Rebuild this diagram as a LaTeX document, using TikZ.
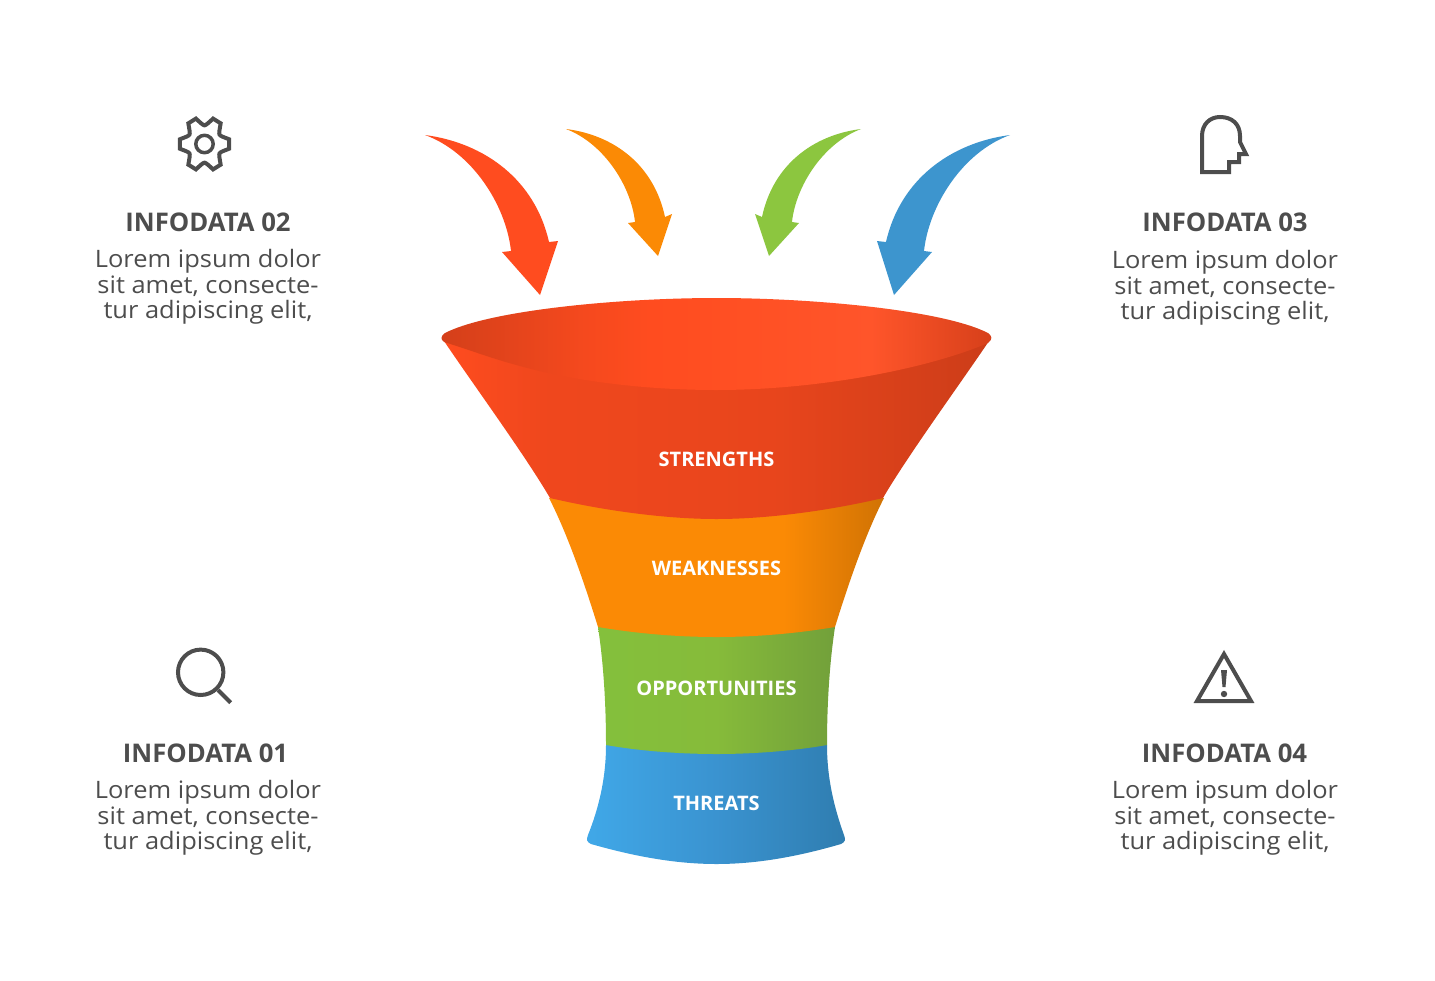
\documentclass[tikz,border=0pt]{standalone}
\usepackage{fontspec}
\setmainfont{Open Sans}
\newfontfamily\widefont[FakeStretch=1.06]{Open Sans}
\definecolor{inktext}{HTML}{4D4D4D}
\definecolor{redarrow}{HTML}{FF4C1F}
\definecolor{orangearrow}{HTML}{FB8A05}
\definecolor{greenarrow}{HTML}{8CC63F}
\definecolor{bluearrow}{HTML}{3D95CE}
\pgfdeclarehorizontalshading{redband}{100bp}{color(0bp)=(redarrow); color(25bp)=(redarrow); color(34bp)=(redarrow!94!black); color(55bp)=(redarrow!91!black); color(75bp)=(redarrow!80!black); color(100bp)=(redarrow!80!black)}
\pgfdeclarehorizontalshading{redrim}{100bp}{color(0bp)=(redarrow!83!black); color(25bp)=(redarrow!83!black); color(38bp)=(redarrow!96!black); color(44bp)=(redarrow); color(64bp)=(redarrow!95!white); color(75bp)=(redarrow!84!black); color(100bp)=(redarrow!84!black)}
\pgfdeclarehorizontalshading{orangeband}{100bp}{color(0bp)=(orangearrow); color(25bp)=(orangearrow); color(60bp)=(orangearrow); color(75bp)=(orangearrow!83!black); color(100bp)=(orangearrow!83!black)}
\definecolor{greenleft}{HTML}{84C03C}
\definecolor{greenmid}{HTML}{86BB3A}
\definecolor{greenright}{HTML}{72A03A}
\definecolor{blueleft}{HTML}{40A8E8}
\definecolor{bluemid}{HTML}{3A93D0}
\definecolor{blueright}{HTML}{2F7DB0}
\pgfdeclarehorizontalshading{greenband}{100bp}{color(0bp)=(greenleft); color(25bp)=(greenleft); color(50bp)=(greenmid); color(75bp)=(greenright); color(100bp)=(greenright)}
\pgfdeclarehorizontalshading{blueband}{100bp}{color(0bp)=(blueleft); color(25bp)=(blueleft); color(50bp)=(bluemid); color(75bp)=(blueright); color(100bp)=(blueright)}
\tikzset{
    title/.style={text=inktext,font=\fontsize{25.7}{30}\selectfont\bfseries},
    body/.style={text=inktext,align=center,font=\fontsize{24}{25.5}\widefont},
    band/.style={text=white,font=\fontsize{20}{24}\selectfont\bfseries},
    icon/.style={draw=inktext,line width=4pt,line join=miter},
}
\begin{document}
\begin{tikzpicture}[x=1pt,y=-1pt]
    \useasboundingbox (0,0) rectangle (1435,980);

    %Funnel
    \shade[shading=blueband] (606,745) .. controls (606,780) and (598,810) .. (588,835) .. controls (586,840) and (587,842) .. (591,844) .. controls (640,858) and (680,864) .. (716.5,864) .. controls (753,864) and (793,858) .. (841,844) .. controls (845,842) and (846,840) .. (844,835) .. controls (835,810) and (827,780) .. (827,745) -- cycle;
    \shade[shading=greenband] (598,627) .. controls (603,660) and (606,700) .. (606,745) .. controls (640,751) and (680,754) .. (716.5,754) .. controls (753,754) and (793,751) .. (827,745) .. controls (827,700) and (830,660) .. (835,627) -- cycle;
    \shade[shading=orangeband] (549,498) .. controls (568,535) and (585,585) .. (598,627) .. controls (640,634) and (680,637) .. (716.5,637) .. controls (753,637) and (793,634) .. (835,627) .. controls (848,585) and (865,535) .. (884,498) -- cycle;
    \shade[shading=redband] (442,338) .. controls (470,380) and (525,455) .. (550,498) .. controls (610,512) and (670,519) .. (716.5,519) .. controls (763,519) and (823,512) .. (883,498) .. controls (908,455) and (963,380) .. (991,338) -- cycle;
    \shade[shading=redrim] (444,342) .. controls (440,339) and (441,336) .. (445,333) .. controls (490,310) and (620,298) .. (716.5,298) .. controls (813,298) and (943,310) .. (988,333) .. controls (992,336) and (993,339) .. (988,343) .. controls (930,368) and (820,390) .. (716.5,390) .. controls (640,390) and (570,380) .. (520,366) .. controls (490,358) and (470,350) .. (444,342) -- cycle;

    %Arrows
    \fill[redarrow] (425,135) .. controls (485,143) and (535,180) .. (549,242) -- (558,241) -- (540,295) -- (502,252) -- (511,251) .. controls (506,205) and (472,152) .. (425,135) -- cycle;
    \fill[orangearrow] (566,129) .. controls (614,135) and (654,165) .. (665,217) -- (672,214) -- (658,256) -- (628,223) -- (635,222) .. controls (631,185) and (603,143) .. (566,129) -- cycle;
    \fill[greenarrow] (861,129) .. controls (813,135) and (773,165) .. (762,217) -- (755,214) -- (769,256) -- (799,223) -- (792,222) .. controls (796,185) and (824,143) .. (861,129) -- cycle;
    \fill[bluearrow] (1010,135) .. controls (950,143) and (900,180) .. (886,242) -- (877,241) -- (894,295) -- (932,252) -- (924,251) .. controls (929,205) and (963,152) .. (1010,135) -- cycle;

    %Icons
    \draw[icon,shift={(204.5,144)},xscale=0.93] (-10:27) \foreach \a in {0,60,...,300}{ -- (\a-10:27) -- (\a+10:27) -- (\a+20:21) .. controls (\a+30:18) .. (\a+40:21)} -- cycle;
    \draw[icon,line width=3.5pt] (204.5,144) circle (8.7pt);
    \draw[icon] (1202,172) -- (1202,136) .. controls (1202,124) and (1210,117) .. (1220,117) .. controls (1232,117) and (1240,124) .. (1240,136) -- (1240,142) -- (1246,154) -- (1239,154) -- (1239,162) -- (1229,162) -- (1229,172) -- cycle;
    \draw[icon] (200.7,672.3) circle (22.7pt);
    \draw[icon] (218,690) -- (230.7,702.7);
    \draw[icon] (1224,654) -- (1251,701) -- (1197,701) -- cycle;
    \fill[inktext] (1221,670) -- (1227,670) -- (1225.5,687) -- (1222.5,687) -- cycle;
    \fill[inktext] (1224,694) circle (3.2pt);

    %Nodes
    \node[band] at (716.5,459) (strengths) {STRENGTHS};
    \node[band] at (716.5,568) (weaknesses) {WEAKNESSES};
    \node[band] at (716.5,688) (opportunities) {OPPORTUNITIES};
    \node[band] at (716.5,803) (threats) {THREATS};

    \node[title] at (208,222) (data2) {INFODATA 02};
    \node[body] at (208,287) (text2) {Lorem ipsum dolor\\sit amet, consecte-\\tur adipiscing elit,};
    \node[title] at (1225,222.5) (data3) {INFODATA 03};
    \node[body] at (1225,288) (text3) {Lorem ipsum dolor\\sit amet, consecte-\\tur adipiscing elit,};
    \node[title] at (205.5,753) (data1) {INFODATA 01};
    \node[body] at (208,818) (text1) {Lorem ipsum dolor\\sit amet, consecte-\\tur adipiscing elit,};
    \node[title] at (1224.5,753.5) (data4) {INFODATA 04};
    \node[body] at (1225,818) (text4) {Lorem ipsum dolor\\sit amet, consecte-\\tur adipiscing elit,};
\end{tikzpicture}
\end{document}
